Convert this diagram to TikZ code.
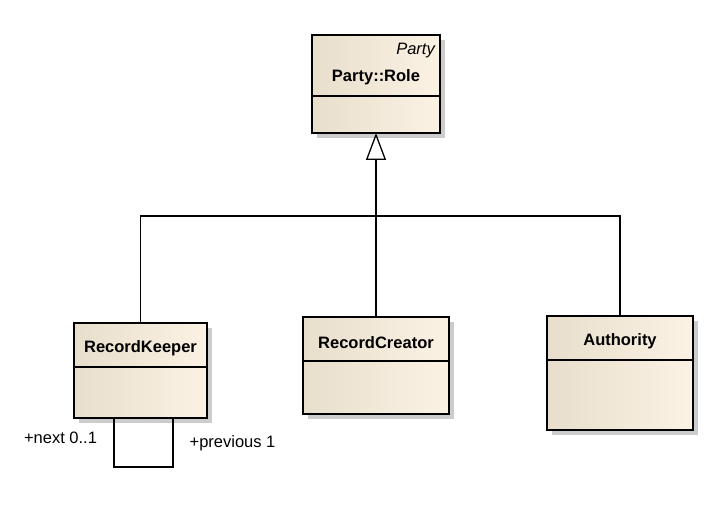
\documentclass[tikz,border=0pt]{standalone}
\usepackage{fontspec}
\setmainfont{Liberation Sans}
\usetikzlibrary{
  arrows.meta,
  shadows
}
\tikzset{
  % For class boxes.
  classbox/.style={
    draw,
    line width=1.4pt,
    left color=boxleft,
    right color=boxright,
    drop shadow={shadow xshift=5pt, shadow yshift=-5pt, fill=black!20, opacity=1},
    inner sep=0pt,
    outer sep=0pt},
%
  % For class names.
  classname/.style={
    font=\fontsize{16.5}{18}\selectfont\bfseries,
    inner sep=0pt},
%
  % For stereotypes and role labels.
  small label/.style={
    font=\fontsize{16.5}{18}\selectfont,
    inner sep=0pt},
%
  % For compartment lines.
  divider/.style={
    line width=1.4pt},
%
  % For plain connectors.
  link/.style={
    line width=1.3pt},
%
  % For the generalization arrow.
  generalization/.style={
    line width=2pt,
    -{Triangle[length=27pt, width=20pt, fill=white, line width=1.3pt]}},
}
\definecolor{boxleft}{RGB}{232,222,204}
\definecolor{boxright}{RGB}{251,242,228}

\begin{document}
\begin{tikzpicture}[x=1pt, y=1pt]
  \useasboundingbox (0,0) rectangle (710,508);

  \node[classbox, minimum width=128, minimum height=98] (role) at (376,424) {};
  \node[classbox, minimum width=133, minimum height=95] (keeper) at (140.5,137.5) {};
  \node[classbox, minimum width=146, minimum height=97] (creator) at (376,142.5) {};
  \node[classbox, minimum width=146, minimum height=114] (authority) at (620,135) {};

  \node[small label, anchor=east] (roleStereo) at ([xshift=-5, yshift=-16]role.north east) {\itshape Party};
  \node[classname] (roleName) at ([yshift=-42]role.north) {Party::Role};
  \node[classname] (keeperName) at ([yshift=-25]keeper.north) {RecordKeeper};
  \node[classname] (creatorName) at ([yshift=-26]creator.north) {RecordCreator};
  \node[classname] (authorityName) at ([yshift=-25]authority.north) {Authority};

  \draw[divider] ([yshift=-61]role.north west) -- ([yshift=-61]role.north east);
  \draw[divider] ([yshift=-44]keeper.north west) -- ([yshift=-44]keeper.north east);
  \draw[divider] ([yshift=-44]creator.north west) -- ([yshift=-44]creator.north east);
  \draw[divider] ([yshift=-44]authority.north west) -- ([yshift=-44]authority.north east);

  \coordinate (bus) at (376,292);
  \draw[link] (keeper.north) |- (bus) -| (authority.north);
  \draw[link] (creator.north) -- (bus);
  \draw[generalization] (bus) -- (role.south);

  \coordinate (loopA) at ([xshift=-26.5]keeper.south);
  \coordinate (loopB) at ([xshift=32.5]keeper.south);
  \draw[link] (loopA) -- ++(0,-49) -| (loopB);

  \node[small label] (nextLabel) at (60.5,70) {+next 0..1};
  \node[small label] (previousLabel) at (232.5,65) {+previous 1};
\end{tikzpicture}
\end{document}
